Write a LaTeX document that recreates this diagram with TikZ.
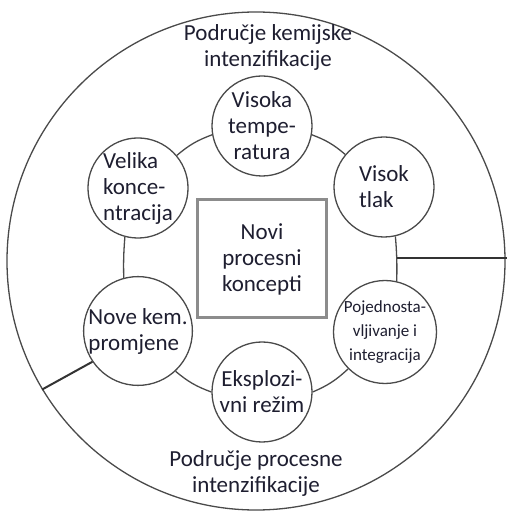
\documentclass[tikz,border=0pt]{standalone}
\usepackage{fontspec}
\setmainfont{Carlito}
\usetikzlibrary{positioning}

\definecolor{edgegray}{HTML}{4A4A4A}
\definecolor{boxgray}{HTML}{8C8C8C}
\definecolor{darkline}{HTML}{333333}
\definecolor{txt}{HTML}{1E1E30}

\begin{document}
\begin{tikzpicture}[x=1pt,y=1pt,node distance=133pt,on grid,
    font=\fontsize{23}{26}\selectfont,text=txt]
       \tikzstyle{idea}=[circle, draw=edgegray, line width=1.3pt, fill=white,
                         minimum size=100pt, inner sep=0pt, align=center]
       \tikzstyle{ring}=[draw=edgegray, line width=1.3pt]
       \tikzstyle{divider}=[draw=darkline, line width=2pt]

       \useasboundingbox (0,0) rectangle (507,512);

       \node[circle, draw=edgegray, line width=1.3pt, minimum size=498pt] (rim) at (256,251) {};
       \node[draw=boxgray, line width=3pt, minimum width=129pt, minimum height=118pt,
             align=center] (novi) at (262,253) {Novi\\procesni\\koncepti};

       \node[idea] (temp) [above =of novi] {Visoka\\tempe-\\ratura};
       \node[idea, align=left] (konc) [above left =71pt and 124pt of novi] {Velika\\konce-\\ntracija};
       \node[idea, align=left] (tlak) [above right =72pt and 122pt of novi] {Visok\\tlak};
       \node[idea, align=left] (kem) [below left =72pt and 124pt of novi] {Nove kem.\\promjene};
       \node[idea, font=\fontsize{17}{24}\selectfont] (pojed) [below right =73pt and 123pt of novi]
            {Pojednosta-\\vljivanje i\\integracija};
       \node[idea] (eksp) [below =of novi] {Eksplozi-\\vni režim};

       % ring between the circles
       \draw[ring] (temp.190) to[bend right=10] (konc.40);
       \draw[ring] (konc.255) to[bend right=3] (kem.105);
       \draw[ring] (kem.313) to[bend right=10] (eksp.180);
       \draw[ring] (eksp.0) to[bend right=10] (pojed.225);
       \draw[ring] (pojed.77) to[bend right=3] (tlak.283);
       \draw[ring] (tlak.140) to[bend right=10] (temp.350);

       \coordinate[right =135pt of novi] (ringE);
       \coordinate (edgeE) at (507,254);
       \draw[divider] (ringE |- edgeE) -- (edgeE);
       \draw[divider] (kem.214) -- (rim.211);

       \node[align=center] (chemlabel) at (268,465) {Područje kemijske\\intenzifikacije};
       \node[align=center] (proclabel) at (256,39) {Područje procesne\\intenzifikacije};
     \end{tikzpicture}
\end{document}
